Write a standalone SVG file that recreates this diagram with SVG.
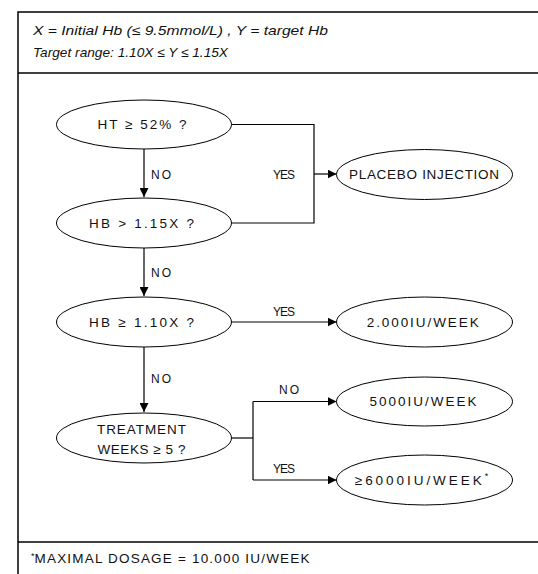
<svg xmlns="http://www.w3.org/2000/svg" width="538" height="574" viewBox="0 0 538 574">
<defs>
<marker id="arr" viewBox="0 0 10 10" refX="10" refY="5" markerWidth="9" markerHeight="9" markerUnits="userSpaceOnUse" orient="auto">
<path d="M0,0 L10,5 L0,10 z" fill="#000"/>
</marker>
<style>
.frame{fill:none;stroke:#000;stroke-width:1.5}
.node ellipse{fill:#fff;stroke:#000;stroke-width:1}
.cap{font-family:"Liberation Sans",Arial,sans-serif;font-size:13.5px;fill:#111}
.node text{text-anchor:middle;dominant-baseline:central}
.hdr{font-family:"Liberation Sans",Arial,sans-serif;font-style:italic;font-size:13px;fill:#111}
.conn path{fill:none;stroke:#000;stroke-width:1.2}
.lbl{font-family:"Liberation Sans",Arial,sans-serif;font-size:12px;letter-spacing:1px;fill:#111;dominant-baseline:central}
</style>
</defs>
<rect width="538" height="574" fill="#fff"/>
<g id="frame">
<rect class="frame" x="18" y="12" width="600" height="620"/>
<line class="frame" x1="18" y1="73" x2="538" y2="73"/>
<line class="frame" x1="18" y1="542" x2="538" y2="542"/>
<text class="hdr" x="33" y="35" textLength="295" lengthAdjust="spacingAndGlyphs">X = Initial Hb (≤ 9.5mmol/L) , Y = target Hb</text>
<text class="hdr" x="33" y="57" textLength="195" lengthAdjust="spacingAndGlyphs">Target range: 1.10X ≤ Y ≤ 1.15X</text>
<text class="cap" x="31" y="563"><tspan font-size="9" dy="-4">*</tspan><tspan dy="4" textLength="275" lengthAdjust="spacing">MAXIMAL DOSAGE = 10.000 IU/WEEK</tspan></text>
</g>
<g id="connectors" class="conn">
<path d="M144,149 V197" marker-end="url(#arr)"/>
<path d="M144,248 V296" marker-end="url(#arr)"/>
<path d="M144,347 V412" marker-end="url(#arr)"/>
<path d="M231.5,124.5 H314 V223 H231.5"/>
<path d="M314,174 H336.5" marker-end="url(#arr)"/>
<path d="M231.5,322 H336.5" marker-end="url(#arr)"/>
<path d="M231.5,438 H253"/>
<path d="M253,401.5 V480"/>
<path d="M253,401.5 H336.5" marker-end="url(#arr)"/>
<path d="M253,480 H336.5" marker-end="url(#arr)"/>
<text class="lbl" x="151" y="175" textLength="21">NO</text>
<text class="lbl" x="151" y="273" textLength="21">NO</text>
<text class="lbl" x="151" y="379" textLength="21">NO</text>
<text class="lbl" x="273" y="175" textLength="23">YES</text>
<text class="lbl" x="273" y="312" textLength="23">YES</text>
<text class="lbl" x="279" y="390" textLength="21">NO</text>
<text class="lbl" x="273" y="469" textLength="23">YES</text>
</g>
<g id="n-ht" class="node">
<ellipse cx="144" cy="124.5" rx="87.5" ry="24.5"/>
<text class="cap" x="142" y="124.5" textLength="89" lengthAdjust="spacing">HT ≥ 52%  ?</text>
</g>
<g id="n-hb115" class="node">
<ellipse cx="144" cy="223" rx="87.5" ry="25"/>
<text class="cap" x="141.5" y="223" textLength="105" lengthAdjust="spacing">HB &gt; 1.15X  ?</text>
</g>
<g id="n-hb110" class="node">
<ellipse cx="144" cy="322" rx="87.5" ry="25"/>
<text class="cap" x="141.5" y="322" textLength="105" lengthAdjust="spacing">HB ≥ 1.10X  ?</text>
</g>
<g id="n-treat" class="node">
<ellipse cx="144" cy="438" rx="87.5" ry="25"/>
<text class="cap" x="141.5" y="429" textLength="89" lengthAdjust="spacing">TREATMENT</text>
<text class="cap" x="141.5" y="449.5" textLength="88" lengthAdjust="spacing">WEEKS ≥ 5 ?</text>
</g>
<g id="n-placebo" class="node">
<ellipse cx="424.5" cy="174.5" rx="88" ry="25"/>
<text class="cap" x="424" y="174.5" textLength="150" lengthAdjust="spacing">PLACEBO INJECTION</text>
</g>
<g id="n-2000" class="node">
<ellipse cx="424.5" cy="322" rx="88" ry="25"/>
<text class="cap" x="422.7" y="322" textLength="112" lengthAdjust="spacing">2.000IU/WEEK</text>
</g>
<g id="n-5000" class="node">
<ellipse cx="424.5" cy="401.5" rx="88" ry="24.5"/>
<text class="cap" x="423" y="401.5" textLength="107" lengthAdjust="spacing">5000IU/WEEK</text>
</g>
<g id="n-6000" class="node">
<ellipse cx="424.5" cy="480" rx="88" ry="25"/>
<text class="cap" x="421.5" y="480"><tspan textLength="127" lengthAdjust="spacing">≥6000IU/WEEK</tspan><tspan font-size="9" dy="-4">*</tspan></text>
</g>
</svg>
